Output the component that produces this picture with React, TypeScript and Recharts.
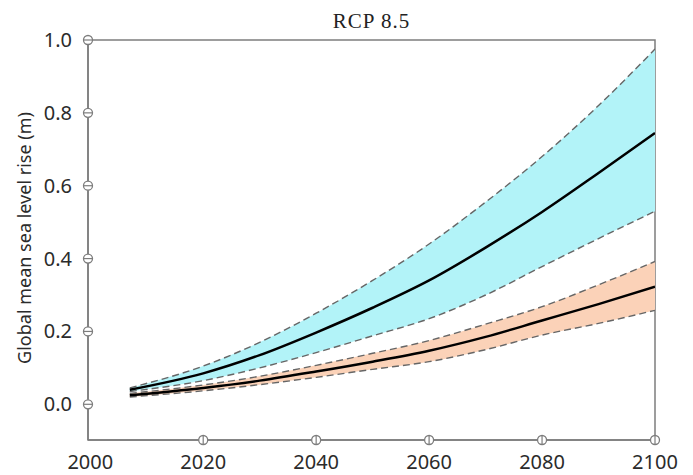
import { ComposedChart, Area, Line, XAxis, YAxis, ReferenceArea } from "recharts";

// values (metres)
const years = [2007, 2020, 2030, 2040, 2050, 2060, 2070, 2080, 2090, 2100];
const totalMid = [0.04, 0.085, 0.135, 0.197, 0.265, 0.34, 0.43, 0.528, 0.635, 0.745];
const totalHigh = [0.045, 0.105, 0.17, 0.25, 0.34, 0.44, 0.555, 0.68, 0.82, 0.975];
const totalLow = [0.035, 0.065, 0.1, 0.142, 0.188, 0.235, 0.3, 0.378, 0.455, 0.53];
const thermalMid = [0.025, 0.045, 0.065, 0.09, 0.117, 0.147, 0.185, 0.23, 0.275, 0.323];
const thermalHigh = [0.03, 0.053, 0.077, 0.107, 0.14, 0.175, 0.22, 0.268, 0.328, 0.392];
const thermalLow = [0.02, 0.037, 0.054, 0.074, 0.096, 0.117, 0.15, 0.19, 0.222, 0.258];

const xTicks = [2000, 2020, 2040, 2060, 2080, 2100];
const yTicks = [0, 0.2, 0.4, 0.6, 0.8, 1.0];

const data = years.map((year, i) => ({
    year,
    totalBand: [totalLow[i], totalHigh[i]],
    totalLow: totalLow[i],
    totalHigh: totalHigh[i],
    totalMid: totalMid[i],
    thermalBand: [thermalLow[i], thermalHigh[i]],
    thermalLow: thermalLow[i],
    thermalHigh: thermalHigh[i],
    thermalMid: thermalMid[i],
}));

const AXIS = "#7d7d7d";
const LABEL = "#2b2b2b";
const SANS = "'Noto Sans', 'Open Sans', sans-serif";

const XTick = (props: any) => {
    const { x, y, payload } = props;
    return (
        <g>
            {payload.value !== 2000 && (
                <g>
                    <circle cx={x} cy={y} r={4.5} fill="#fff" stroke={AXIS} strokeWidth={1.3} />
                    <line x1={x} x2={x} y1={y - 4.5} y2={y + 4.5} stroke={AXIS} strokeWidth={1.2} />
                </g>
            )}
            <text x={x} y={y + 29} textAnchor="middle" fontSize={20} fill={LABEL} fontFamily={SANS}>
                {payload.value}
            </text>
        </g>
    );
};

const YTick = (props: any) => {
    const { x, y, payload } = props;
    return (
        <g>
            <circle cx={x} cy={y} r={4.5} fill="#fff" stroke={AXIS} strokeWidth={1.3} />
            <line x1={x - 4.5} x2={x + 4.5} y1={y} y2={y} stroke={AXIS} strokeWidth={1.2} />
            <text x={x - 16} y={y} dy="0.35em" textAnchor="end" fontSize={20} fill={LABEL} fontFamily={SANS}>
                {payload.value.toFixed(1)}
            </text>
        </g>
    );
};

const YTitle = () => (
    <text
        x={24}
        y={238}
        transform="rotate(-90 24 238)"
        textAnchor="middle"
        dominantBaseline="central"
        fontSize={18}
        fill={LABEL}
        fontFamily={SANS}
    >
        Global mean sea level rise (m)
    </text>
);

const App = () => {
    return (
        <div style={{ position: "fixed", left: 0, top: 0, background: "#fff" }}>
            <ComposedChart
                width={693}
                height={475}
                data={data}
                margin={{ top: 40, right: 38, bottom: 0, left: 0 }}
            >
                <XAxis
                    type="number"
                    dataKey="year"
                    domain={[1999.6, 2100]}
                    ticks={xTicks}
                    height={35}
                    tickSize={0}
                    tickMargin={0}
                    tickLine={false}
                    axisLine={{ stroke: AXIS, strokeWidth: 1.5 }}
                    tick={<XTick />}
                    interval={0}
                    allowDataOverflow
                />
                <YAxis
                    type="number"
                    domain={[-0.098, 1.0]}
                    ticks={yTicks}
                    width={88}
                    tickSize={0}
                    tickMargin={0}
                    tickLine={false}
                    axisLine={{ stroke: AXIS, strokeWidth: 1.5 }}
                    tick={<YTick />}
                    interval={0}
                    allowDataOverflow
                    label={{ content: <YTitle /> }}
                />
                <ReferenceArea
                    x1={1999.6}
                    x2={2100}
                    y1={-0.098}
                    y2={1.0}
                    fill="none"
                    stroke={AXIS}
                    strokeWidth={1.5}
                    label={{
                        value: "RCP 8.5",
                        position: "top",
                        offset: 12,
                        fontSize: 21,
                        fill: "#222",
                        fontFamily: "'Liberation Serif', serif",
                        letterSpacing: 1,
                    }}
                />
                <Area
                    type="monotone"
                    dataKey="totalBand"
                    fill="#b2f3f8"
                    fillOpacity={1}
                    stroke="none"
                    isAnimationActive={false}
                />
                <Area
                    type="monotone"
                    dataKey="thermalBand"
                    fill="#fbd2b8"
                    fillOpacity={1}
                    stroke="none"
                    isAnimationActive={false}
                />
                <Line type="monotone" dataKey="totalHigh" stroke="#666" strokeWidth={1.4} strokeDasharray="7 4" dot={false} isAnimationActive={false} />
                <Line type="monotone" dataKey="totalLow" stroke="#666" strokeWidth={1.4} strokeDasharray="7 4" dot={false} isAnimationActive={false} />
                <Line type="monotone" dataKey="thermalHigh" stroke="#666" strokeWidth={1.4} strokeDasharray="7 4" dot={false} isAnimationActive={false} />
                <Line type="monotone" dataKey="thermalLow" stroke="#666" strokeWidth={1.4} strokeDasharray="7 4" dot={false} isAnimationActive={false} />
                <Line type="monotone" dataKey="totalMid" stroke="#000" strokeWidth={2.5} dot={false} isAnimationActive={false} />
                <Line type="monotone" dataKey="thermalMid" stroke="#000" strokeWidth={2.5} dot={false} isAnimationActive={false} />
            </ComposedChart>
        </div>
    );
};

export default App;
